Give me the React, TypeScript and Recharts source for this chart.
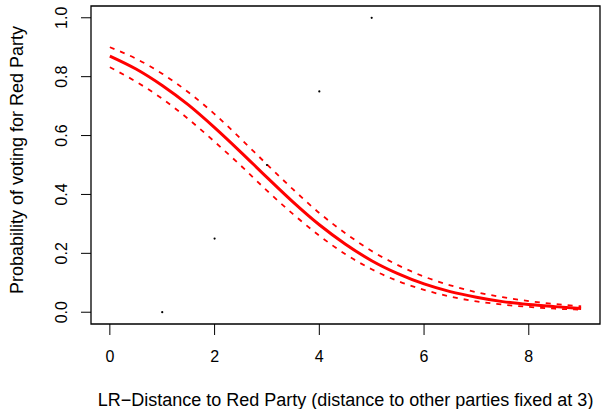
import React from 'react';
import {
  ComposedChart,
  Line,
  Scatter,
  XAxis,
  YAxis,
  ReferenceArea,
  Label,
} from 'recharts';

// LR-distance grid (x) and predicted probabilities
const distance = [0, 0.5, 1, 1.5, 2, 2.5, 3, 3.5, 4, 4.5, 5, 5.5, 6, 6.5, 7, 7.5, 8, 8.5, 9];
const fitted = [0.87, 0.826, 0.77, 0.704, 0.627, 0.544, 0.458, 0.374, 0.297, 0.231, 0.175, 0.131, 0.096, 0.07, 0.051, 0.036, 0.026, 0.019, 0.013];
const upper = [0.9, 0.861, 0.81, 0.747, 0.673, 0.589, 0.502, 0.417, 0.337, 0.268, 0.208, 0.16, 0.121, 0.0915, 0.068, 0.051, 0.038, 0.028, 0.02];
const lower = [0.832, 0.783, 0.725, 0.656, 0.579, 0.498, 0.413, 0.333, 0.26, 0.197, 0.146, 0.106, 0.076, 0.053, 0.037, 0.026, 0.018, 0.012, 0.0086];

// observed points
const obsX = [1, 2, 3, 4, 5];
const obsY = [0, 0.25, 0.5, 0.75, 1];

const xTicks = [0, 2, 4, 6, 8];
const yTicks = [0, 0.2, 0.4, 0.6, 0.8, 1];

const curve = distance.map((x, i) => ({ x, fit: fitted[i], hi: upper[i], lo: lower[i] }));
const points = obsX.map((x, i) => ({ x, y: obsY[i] }));

const FONT = '"Liberation Sans", Arial, Helvetica, sans-serif';

const YTick = (props: any) => {
  const { x, y, payload } = props;
  return (
    <text
      x={x}
      y={y}
      transform={`rotate(-90, ${x}, ${y})`}
      textAnchor="middle"
      fill="#000"
      fontSize={16}
      fontFamily={FONT}
    >
      {Number(payload.value).toFixed(1)}
    </text>
  );
};

const Dot = (props: any) => <circle cx={props.cx} cy={props.cy} r={1.1} fill="#000" />;

export default function App() {
  return (
    <div style={{ position: 'absolute', left: 0, top: 0, background: '#fff' }}>
      <ComposedChart width={601} height={409} margin={{ top: 6, right: 1, bottom: 0, left: 0 }}>
        <XAxis
          type="number"
          dataKey="x"
          domain={[-0.36, 9.36]}
          allowDataOverflow
          ticks={xTicks}
          axisLine={false}
          tickLine={{ stroke: '#000', strokeWidth: 1 }}
          tickSize={11}
          tickMargin={16}
          height={85}
          tick={{ fill: '#000', fontSize: 16, fontFamily: FONT }}
        >
          <Label
            content={() => (
              <text x={345.5} y={406} textAnchor="middle" fill="#000" fontSize={18} fontFamily={FONT}>
                LR−Distance to Red Party (distance to other parties fixed at 3)
              </text>
            )}
          />
        </XAxis>
        <YAxis
          type="number"
          dataKey="y"
          domain={[-0.04, 1.04]}
          allowDataOverflow
          ticks={yTicks}
          width={91}
          axisLine={false}
          tickLine={{ stroke: '#000', strokeWidth: 1 }}
          tickSize={10}
          tickMargin={14}
          tick={<YTick />}
        >
          <Label
            content={() => (
              <text
                x={23}
                y={160}
                transform="rotate(-90, 23, 160)"
                textAnchor="middle"
                fill="#000"
                fontSize={18}
                fontFamily={FONT}
              >
                Probability of voting for Red Party
              </text>
            )}
          />
        </YAxis>
        <ReferenceArea
          x1={-0.36}
          x2={9.36}
          y1={-0.04}
          y2={1.04}
          fill="none"
          fillOpacity={0}
          stroke="#000"
          strokeWidth={1.3}
          ifOverflow="visible"
        />
        <Scatter data={points} dataKey="y" shape={<Dot />} isAnimationActive={false} />
        <Line
          data={curve}
          dataKey="hi"
          type="monotone"
          stroke="#ff0000"
          strokeWidth={1.8}
          strokeDasharray="5 6"
          dot={false}
          activeDot={false}
          isAnimationActive={false}
        />
        <Line
          data={curve}
          dataKey="lo"
          type="monotone"
          stroke="#ff0000"
          strokeWidth={1.8}
          strokeDasharray="5 6"
          dot={false}
          activeDot={false}
          isAnimationActive={false}
        />
        <Line
          data={curve}
          dataKey="fit"
          type="monotone"
          stroke="#ff0000"
          strokeWidth={3}
          dot={false}
          activeDot={false}
          isAnimationActive={false}
        />
      </ComposedChart>
    </div>
  );
}
